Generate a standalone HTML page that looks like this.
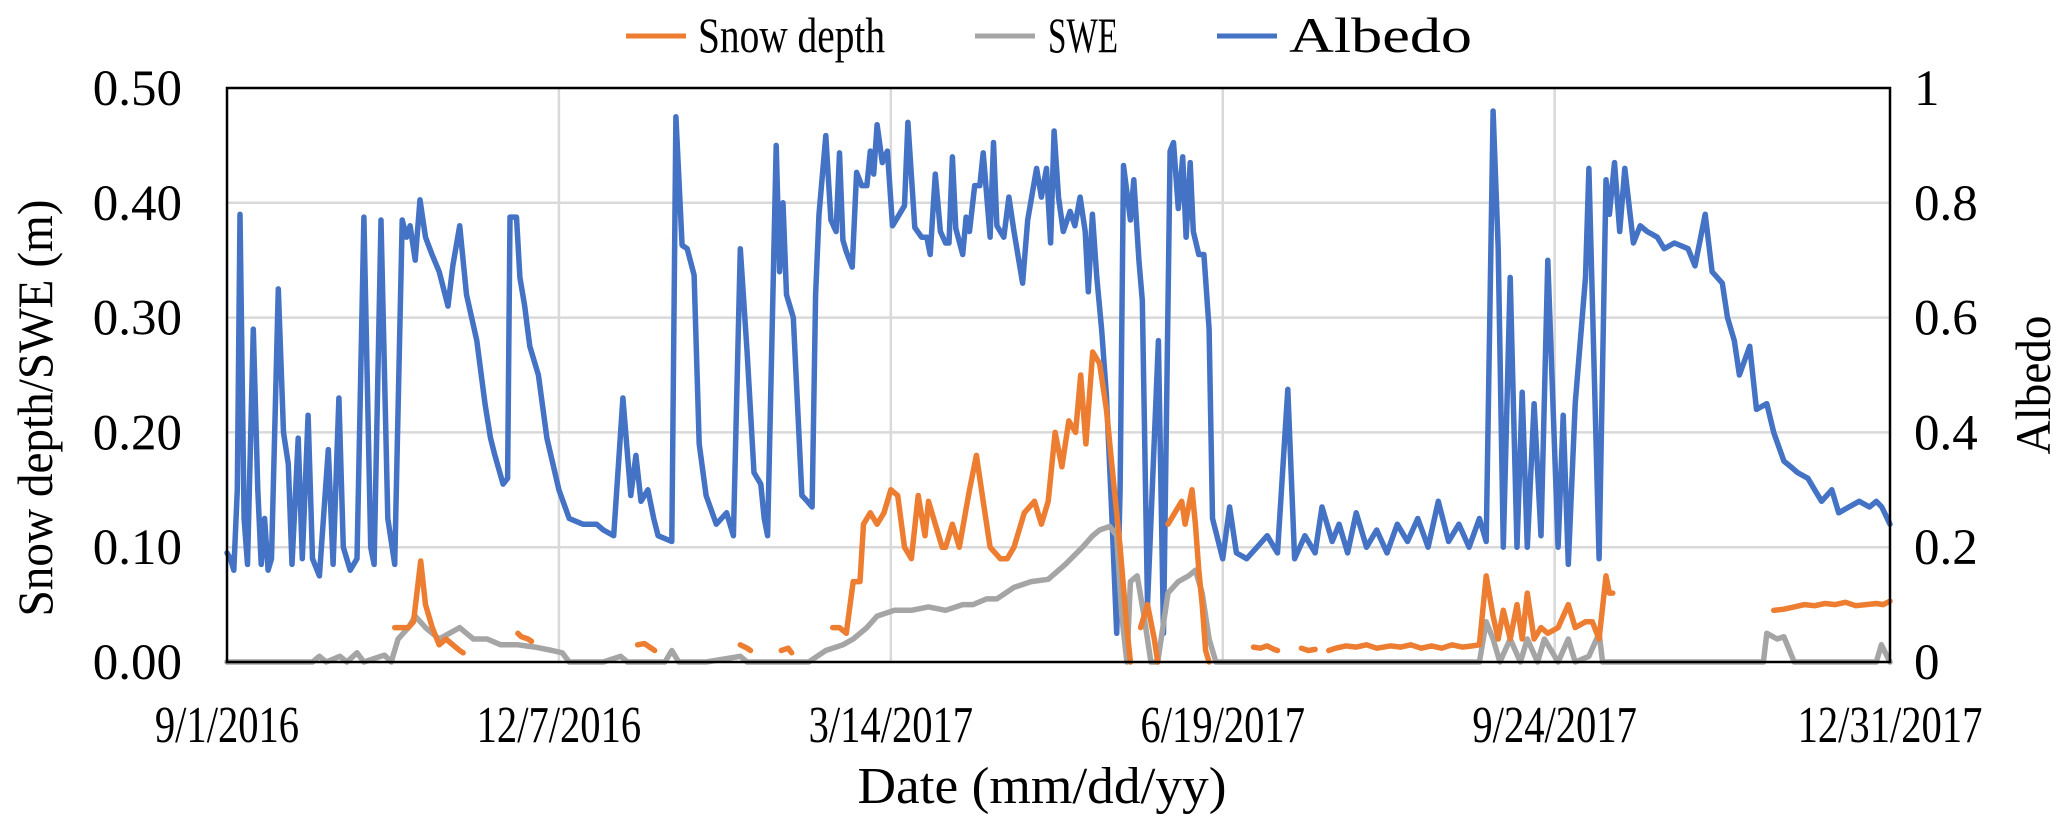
<!DOCTYPE html>
<html><head><meta charset="utf-8">
<style>
html,body{margin:0;padding:0;background:#fff;}
svg{display:block;font-family:"Liberation Serif",serif;}
</style></head>
<body>
<svg id="chart" width="2067" height="825" viewBox="0 0 2067 825" xmlns="http://www.w3.org/2000/svg">
  <g id="grid"></g>
  <g id="series"></g>
  <rect x="227" y="88" width="1663" height="574" fill="none" stroke="#000" stroke-width="2.5"/>
  <g id="axes"></g>
  <text class="cond" transform="translate(52,408) rotate(-90)" text-anchor="middle" font-size="50" data-w="417">Snow depth/SWE (m)</text>
  <text class="cond" transform="translate(2050,385) rotate(-90)" text-anchor="middle" font-size="50" data-w="139">Albedo</text>
  <text class="cond" x="1042" y="803" text-anchor="middle" font-size="52" data-w="369">Date (mm/dd/yy)</text>
  <g>
    <g>
      <line x1="626" y1="36" x2="686" y2="36" stroke="#ED7D31" stroke-width="5"/>
      <text class="cond" x="698" y="52" font-size="50" data-w="187">Snow depth</text>
    </g>
    <g>
      <line x1="975" y1="36" x2="1035" y2="36" stroke="#A5A5A5" stroke-width="5"/>
      <text class="cond" x="1048" y="52" font-size="50" data-w="70">SWE</text>
    </g>
    <g>
      <line x1="1217" y1="36" x2="1277" y2="36" stroke="#4472C4" stroke-width="5"/>
      <text class="cond" x="1289" y="52" font-size="50" data-w="183">Albedo</text>
    </g>
  </g>
</svg>
<script>
// ---- data (day offset from 9/1/2016) ----
const xTickLabels = ["9/1/2016","12/7/2016","3/14/2017","6/19/2017","9/24/2017","12/31/2017"];
const xTickDays = [0,97,194,291,388,486];
const leftTicks = [0,0.1,0.2,0.3,0.4,0.5];
const leftTickLabels = ["0.00","0.10","0.20","0.30","0.40","0.50"];
const rightTicks = [0,0.2,0.4,0.6,0.8,1];
const rightTickLabels = ["0","0.2","0.4","0.6","0.8","1"];

const albedoDays = [0,1,2,3,3.8,5,6,7.7,9,10,11,12,13,15,16.5,17.9,19,20.8,22,23.7,25,27,29.6,31,32.7,34,36,38,40,42,43,45,47,49,51.2,52.5,53.5,55,56.4,58,59.9,62,64.6,66,68,70,73,75.4,77,78.3,80.7,82,82.7,84.6,85.6,87,88.5,91,93.5,97,100,104,108,110,113,115.7,118,119.5,121,123,124.7,126,130,131.2,133,134.5,136.5,138,140,143,146,148,150,152,154,156,157,158,160.5,161.5,162.5,163.5,165.5,168,169.6,171,172,173,175,176.5,178,179,180,181,182.7,184,185.5,187,188,189,190,191.5,193,194.5,196.5,198,199,201,203,204.5,205.5,207,208.5,210,211,212,213,215,216,217,218.5,220,221,223,224,225,227,228.5,230,232.5,234,236.6,238,239.5,240.7,241.7,243,244.4,246.4,247.8,249.3,250.8,251.7,252.9,254.2,255.6,257,258.5,260,261,262,264,265,266.5,267.5,269,272.2,273.7,275.6,276.6,278,279.3,280.3,281.5,282.4,284,285.5,287,288,291,293,295,298,301,304,307,310,312,315,318,320,323,325,327.5,330,333,336,339,342,345,348,351,354,357,360,363,366,368,370,371.5,373,375,377,378.5,380,382,384,386,389,390.5,392,394,397,398,401,403,404,405.5,407,408.5,411,413,415,418,420,423,427,429,432,434,437,438.5,440.5,442,445,447,450,452,455,457,459,462,464,466,469,471,474,477,480,482,483.6,486];
const albedoVals = [0.19,0.18,0.16,0.3,0.78,0.25,0.17,0.58,0.3,0.17,0.25,0.16,0.18,0.65,0.4,0.345,0.17,0.39,0.18,0.43,0.18,0.15,0.37,0.17,0.46,0.2,0.16,0.18,0.775,0.2,0.17,0.77,0.25,0.17,0.77,0.74,0.76,0.7,0.805,0.74,0.71,0.68,0.62,0.69,0.76,0.64,0.56,0.45,0.39,0.36,0.31,0.32,0.775,0.775,0.67,0.62,0.55,0.5,0.39,0.3,0.25,0.24,0.24,0.23,0.22,0.46,0.29,0.36,0.28,0.3,0.25,0.22,0.21,0.95,0.726,0.72,0.674,0.38,0.29,0.24,0.26,0.22,0.72,0.54,0.33,0.31,0.25,0.22,0.9,0.68,0.8,0.64,0.6,0.29,0.28,0.27,0.64,0.78,0.917,0.77,0.75,0.887,0.735,0.715,0.688,0.853,0.83,0.83,0.89,0.85,0.936,0.87,0.89,0.76,0.78,0.795,0.94,0.757,0.74,0.74,0.71,0.85,0.75,0.73,0.73,0.88,0.755,0.71,0.775,0.75,0.83,0.83,0.887,0.74,0.905,0.76,0.74,0.81,0.75,0.66,0.77,0.86,0.81,0.86,0.73,0.925,0.81,0.75,0.785,0.76,0.81,0.75,0.645,0.78,0.67,0.58,0.465,0.27,0.05,0.3,0.865,0.77,0.84,0.7,0.63,0.1,0.56,0.05,0.89,0.905,0.79,0.88,0.74,0.87,0.75,0.71,0.71,0.58,0.25,0.18,0.27,0.19,0.18,0.2,0.22,0.19,0.475,0.18,0.22,0.19,0.27,0.21,0.24,0.19,0.26,0.2,0.23,0.19,0.24,0.21,0.25,0.2,0.28,0.21,0.24,0.2,0.25,0.21,0.96,0.72,0.2,0.67,0.2,0.47,0.2,0.45,0.22,0.7,0.2,0.43,0.17,0.45,0.67,0.86,0.18,0.84,0.78,0.87,0.75,0.86,0.73,0.76,0.75,0.74,0.72,0.73,0.72,0.69,0.78,0.68,0.66,0.6,0.56,0.5,0.55,0.44,0.45,0.4,0.35,0.34,0.33,0.32,0.3,0.28,0.3,0.26,0.27,0.28,0.27,0.28,0.27,0.24,0.78,0.32];

const depthDays = [49,51,53,54.5,56.6,58,60,62,64,66,68,69, 84,85,86,88,89, 119,120,122,124,125, 149,150,152,153, 160,162,164,165, 175,177,179,181,183,185,186,188,190,192,194,196,198,200,202,204,205,207,209,210,212,214,217,219,221,223,226,228,230,233,236,238,240,242,244,246,248,249.5,251,253,255,257,259,261,263,264,265, 267,269,271,272, 274,275,277,279,280,282,283,284,285,286,287, 288, 300,302,304,306,307, 308, 314,316,318, 320, 322,324,327,330,333,336,340,343,346,349,352,355,358,361,364,366,368,370,371.5,373,375,377,378.5,380,382,384,386,389,392,394,397,399,401,403,404, 405, 450,452,455,458,461,464,467,470,473,476,479,482,484,486];
const depthVals = [0.03,0.03,0.03,0.035,0.088,0.05,0.03,0.015,0.02,0.015,0.01,0.008, null,0.025,0.022,0.02,0.018, null,0.015,0.016,0.012,0.01, null,0.015,0.012,0.01, null,0.01,0.012,0.008, null,0.03,0.03,0.025,0.07,0.07,0.12,0.13,0.12,0.13,0.15,0.145,0.1,0.09,0.145,0.11,0.14,0.12,0.1,0.1,0.12,0.1,0.15,0.18,0.14,0.1,0.09,0.09,0.1,0.13,0.14,0.12,0.14,0.2,0.17,0.21,0.2,0.25,0.19,0.27,0.26,0.22,0.16,0.1,0.03,0.0,null, 0.03,0.05,0.02,0.0, null,0.12,0.13,0.14,0.12,0.15,0.12,0.08,0.05,0.01,0.0, null, 0.013,0.012,0.014,0.011,0.01, null, 0.012,0.01,0.011, null, 0.01,0.012,0.014,0.013,0.015,0.012,0.014,0.013,0.015,0.012,0.014,0.012,0.015,0.013,0.014,0.015,0.075,0.04,0.02,0.045,0.02,0.05,0.02,0.06,0.02,0.03,0.025,0.03,0.05,0.03,0.035,0.035,0.02,0.075,0.06,0.06, null, 0.045,0.046,0.048,0.05,0.049,0.051,0.05,0.052,0.049,0.05,0.051,0.05,0.053,0.055];

const sweDays = [0,25,27,29,33,35,38,40,46,48,50,53,55,58,60,62,65,68,70,72,76,80,85,90,95,98,100,110,115,117,120,128,130,132,140,150,152,160,170,175,180,183,187,190,195,200,205,210,215,218,222,225,230,235,240,245,250,253,255,258,260,261.5,263,264,266,268,270,272,275,278,281,283,285,287,289,291,366,368,370,372,375,378,380,383,385,389,392,394,398,401,402,404,446,449,450,453,455,458,460,482,483.5,486];
const sweVals = [0,0,0.005,0,0.005,0,0.008,0,0.006,0,0.02,0.03,0.04,0.03,0.025,0.02,0.025,0.03,0.025,0.02,0.02,0.015,0.015,0.013,0.01,0.008,0,0,0.005,0,0,0,0.01,0,0,0.005,0,0,0,0.01,0.015,0.02,0.03,0.04,0.045,0.045,0.048,0.045,0.05,0.05,0.055,0.055,0.065,0.07,0.072,0.085,0.1,0.11,0.115,0.118,0.11,0.04,0.0,0.07,0.075,0.04,0,0,0.06,0.07,0.075,0.08,0.06,0.02,0,0,0,0.035,0.02,0,0.02,0,0.02,0,0.02,0,0.02,0,0.005,0.025,0,0,0,0,0.025,0.02,0.022,0,0,0,0.015,0];

// ---- axes ----
const L=227,R=1890,T=88,B=662,D0=0,D1=486;
function xs(d){return L+(d-D0)/(D1-D0)*(R-L);}
function yl(v){return B-v/0.5*(B-T);}
function yr(v){return B-v*(B-T);}
const NS="http://www.w3.org/2000/svg";
function mk(tag,attrs,parent){const e=document.createElementNS(NS,tag);for(const k in attrs)e.setAttribute(k,attrs[k]);parent.appendChild(e);return e;}
const grid=document.getElementById('grid'),axes=document.getElementById('axes'),series=document.getElementById('series');

leftTicks.forEach((v,i)=>{
  if(v>0&&v<0.5){const g=mk('line',{x1:L,x2:R,y1:yl(v),y2:yl(v),stroke:'#d9d9d9','stroke-width':2.5},grid);
  
  }
  const t=mk('text',{x:182,y:yl(v)+17,'text-anchor':'end','font-size':51},axes);t.textContent=leftTickLabels[i];
  
  
});
rightTicks.forEach((v,i)=>{
  const t=mk('text',{x:1914,y:yr(v)+17,'text-anchor':'start','font-size':51},axes);t.textContent=rightTickLabels[i];
  
  
});
xTickDays.forEach((d,i)=>{
  if(i>0&&i<xTickDays.length-1){const g=mk('line',{x1:xs(d),x2:xs(d),y1:T,y2:B,stroke:'#d9d9d9','stroke-width':2.5},grid);
  
  }
  const t=mk('text',{x:xs(d),y:742,'text-anchor':'middle','font-size':52,'class':'condx'},axes);t.textContent=xTickLabels[i];
  
  
});

document.querySelectorAll('text.cond').forEach(t=>{
  t.setAttribute('textLength',t.getAttribute('data-w'));
  t.setAttribute('lengthAdjust','spacingAndGlyphs');
});
document.querySelectorAll('text.condx').forEach(t=>{
  const w=t.getComputedTextLength();
  t.setAttribute('textLength',(w*0.78).toFixed(1));
  t.setAttribute('lengthAdjust','spacingAndGlyphs');
});

function drawSeries(days,vals,yf,color,name){
  let d='',pen=false;
  days.forEach((dd,i)=>{const v=vals[i];
    if(v===null||v===undefined){pen=false;return;}
    d+=(pen?'L':'M')+xs(dd).toFixed(1)+','+yf(v).toFixed(1);pen=true;});
  const p=mk('path',{d:d,fill:'none',stroke:color,'stroke-width':5.5,'stroke-linejoin':'round','stroke-linecap':'round'},series);
  
  
}
drawSeries(albedoDays,albedoVals,yr,'#4472C4','albedo-line');
drawSeries(sweDays,sweVals,yl,'#A5A5A5','swe-line');
drawSeries(depthDays,depthVals,yl,'#ED7D31','snow-depth-line');
</script>
</body></html>
